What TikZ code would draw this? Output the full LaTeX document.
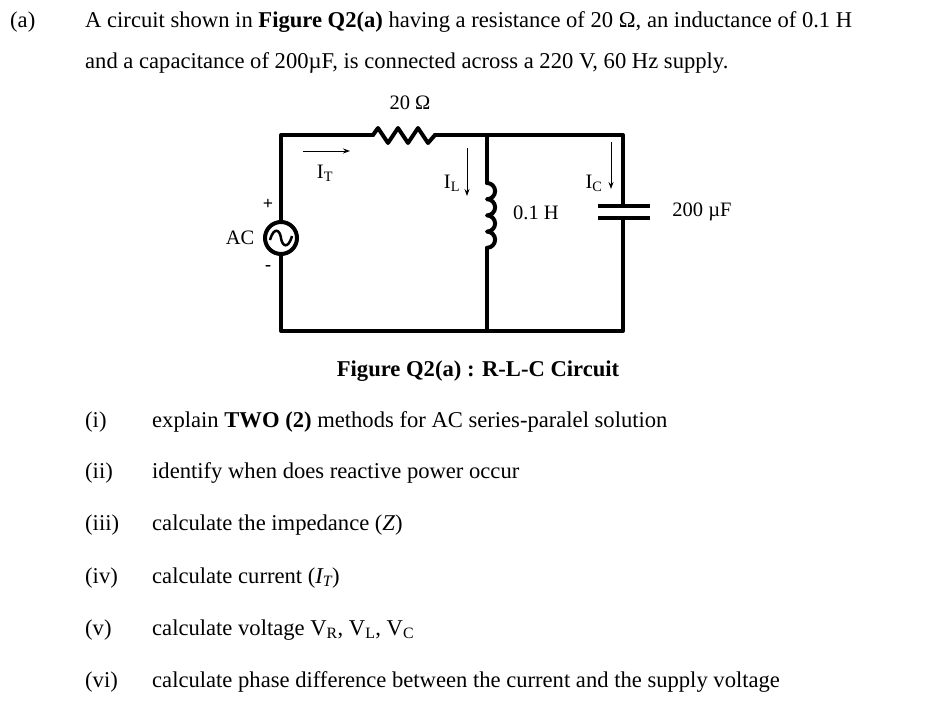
\documentclass[tikz,border=0pt]{standalone}
\usepackage{fontspec}
\setmainfont{Liberation Serif}
\usetikzlibrary{arrows.meta}
\begin{document}
\begin{tikzpicture}[x=1pt,y=-1pt,
  txt/.style={anchor=base west,inner sep=0pt,font=\fontsize{22.6}{26}\selectfont},
  lbl/.style={inner sep=0pt,font=\fontsize{20.5}{24}\selectfont},
  wire/.style={line width=4pt,line cap=round,line join=round},
  cur/.style={line width=1pt,-{Stealth[length=7pt,width=5pt]}}]
\useasboundingbox (0,0) rectangle (952,717);
\node[txt] (a) at (10,28) {(a)};
\node[txt] (l1) at (85,28) {A circuit shown in \textbf{Figure Q2(a)} having a resistance of 20 Ω, an inductance of 0.1 H};
\node[txt] (l2) at (85,68) {and a capacitance of 200µF, is connected across a 220 V, 60 Hz supply.};
% circuit
\coordinate (tl) at (281,135); \coordinate (r1) at (373,135); \coordinate (r2) at (435,135);
\coordinate (tm) at (487,135); \coordinate (tr) at (623,135);
\coordinate (bl) at (281,331); \coordinate (bm) at (487,331); \coordinate (br) at (623,331);
\draw[wire] (281,222) -- (tl) -- (r1);
\draw[wire] (r1) -- (378,128) -- (388,143) -- (398,128) -- (408,143) -- (418,128) -- (428,143) -- (r2);
\draw[wire] (r2) -- (tr) -- (623,206);
\draw[wire] (623,218) -- (br) -- (bl) -- (281,254);
\draw[wire] (tm) -- (487,183);
\draw[wire] (487,183) arc[start angle=270,end angle=450,radius=8.1] arc[start angle=270,end angle=450,radius=8.1] arc[start angle=270,end angle=450,radius=8.1] arc[start angle=270,end angle=450,radius=8.1];
\draw[wire] (487,248) -- (bm);
\draw[wire,line cap=butt] (598,206) -- (650,206) (598,218) -- (650,218);
\node[draw,circle,line width=4pt,minimum size=32pt,inner sep=0pt] (src) at (281,238) {};
\draw[line width=2.5pt] (270,240) .. controls (274,226) and (280,230) .. (281,238) .. controls (282,246) and (288,250) .. (292,236);
\node[lbl] (ac) at (240,238) {AC};
\node[lbl,font=\bfseries\fontsize{18}{22}\selectfont] (plus) at (268,204) {+};
\node[lbl,font=\bfseries\fontsize{18}{22}\selectfont] (minus) at (268,268) {-};
\node[lbl] (R) at (410,103) {20 Ω};
\node[lbl] (L) at (536,213) {0.1 H};
\node[lbl] (C) at (702,212) {200 µF};
\coordinate (it1) at (303,151); \coordinate (it2) at (350,151);
\draw[cur] (it1) -- (it2);
\node[lbl] (IT) at (325,173) {I\textsubscript{T}};
\coordinate (il1) at (467,148); \coordinate (il2) at (467,196);
\draw[cur] (il1) -- (il2);
\node[lbl] (IL) at (452,183) {I\textsubscript{L}};
\coordinate (ic1) at (611,142); \coordinate (ic2) at (611,189);
\draw[cur] (ic1) -- (ic2);
\node[lbl] (IC) at (594,183) {I\textsubscript{C}};
\node[txt,anchor=base] (cap) at (478,376) {\textbf{Figure Q2(a) : R-L-C Circuit}};
\foreach \n/\y/\t in {i/427/{explain \textbf{TWO (2)} methods for AC series-paralel solution},
  ii/478/{identify when does reactive power occur},
  iii/530/{calculate the impedance (\textit{Z})},
  iv/583/{calculate current (\textit{I\textsubscript{T}})},
  v/635/{calculate voltage V\textsubscript{R}, V\textsubscript{L}, V\textsubscript{C}},
  vi/687/{calculate phase difference between the current and the supply voltage}}{
  \node[txt] (n\n) at (85,\y) {(\n)};
  \node[txt] (t\n) at (152,\y) {\t};
}
\end{tikzpicture}
\end{document}
